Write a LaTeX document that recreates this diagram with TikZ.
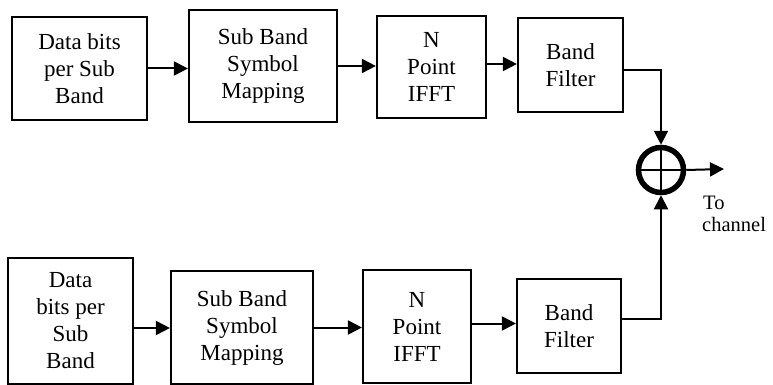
\documentclass[tikz,border=0pt]{standalone}
\usepackage{fontspec}
\setmainfont{Liberation Serif}
\usetikzlibrary{arrows.meta}
\begin{document}
\begin{tikzpicture}[x=1pt,y=-1pt,
  blk/.style={draw,line width=2.2pt,align=center,inner sep=0pt,
    font=\fontsize{23}{27}\selectfont},
  lab/.style={inner sep=0pt,font=\fontsize{20.5}{21}\selectfont},
  conn/.style={line width=2pt,-{Triangle[length=14pt,width=14pt]}},
  wire/.style={line width=2pt}]
\useasboundingbox (0,0) rectangle (773,385);
% top row
\node[blk,minimum width=135pt,minimum height=103pt] (a1) at (79.5,68.5) {Data bits\\per Sub\\Band};
\node[blk,minimum width=148pt,minimum height=112pt] (a2) at (263,66) {Sub Band\\Symbol\\Mapping};
\node[blk,minimum width=109pt,minimum height=102pt] (a3) at (431.5,67) {N\\Point\\IFFT};
\node[blk,minimum width=105pt,minimum height=94pt] (a4) at (570.5,65) {Band\\Filter};
% bottom row
\node[blk,minimum width=125pt,minimum height=126pt] (b1) at (70.5,321) {Data\\bits per\\Sub\\Band};
\node[blk,minimum width=142pt,minimum height=113pt] (b2) at (242,327.5) {Sub Band\\Symbol\\Mapping};
\node[blk,minimum width=108pt,minimum height=113pt] (b3) at (417,326.5) {N\\Point\\IFFT};
\node[blk,minimum width=104pt,minimum height=94pt] (b4) at (569,326) {Band\\Filter};
% summer
\node[draw,circle,line width=5.5pt,minimum size=45pt,inner sep=0pt] (s) at (661,170) {};
\draw[line width=1.4pt] (s.north) -- (s.south) (s.west) -- (s.east);
\coordinate (out) at (724,169);
\node[lab,anchor=base west] (to) at (703,209) {To};
\node[lab,anchor=base west] (ch) at (702,231) {channel};
% connectors
\draw[conn] (a1.east) -- (a2.west |- a1.east);
\draw[conn] (a2.east) -- (a3.west |- a2.east);
\draw[conn] (a3.east) ++(0,-3) coordinate (a3o) -- (a3o -| a4.west);
\draw[conn] ([yshift=-5pt]a4.east) -| (s.north);
\draw[conn] (b1.east) ++(0,7) coordinate (b1o) -- (b1o -| b2.west);
\draw[conn] (b2.east) -- (b2.east -| b3.west);
\draw[conn] (b3.east) ++(0,-3) coordinate (b3o) -- (b3o -| b4.west);
\draw[conn] ([yshift=7pt]b4.east) -| (s.south);
\draw[conn] (s.east) -- (out);
\end{tikzpicture}
\end{document}
